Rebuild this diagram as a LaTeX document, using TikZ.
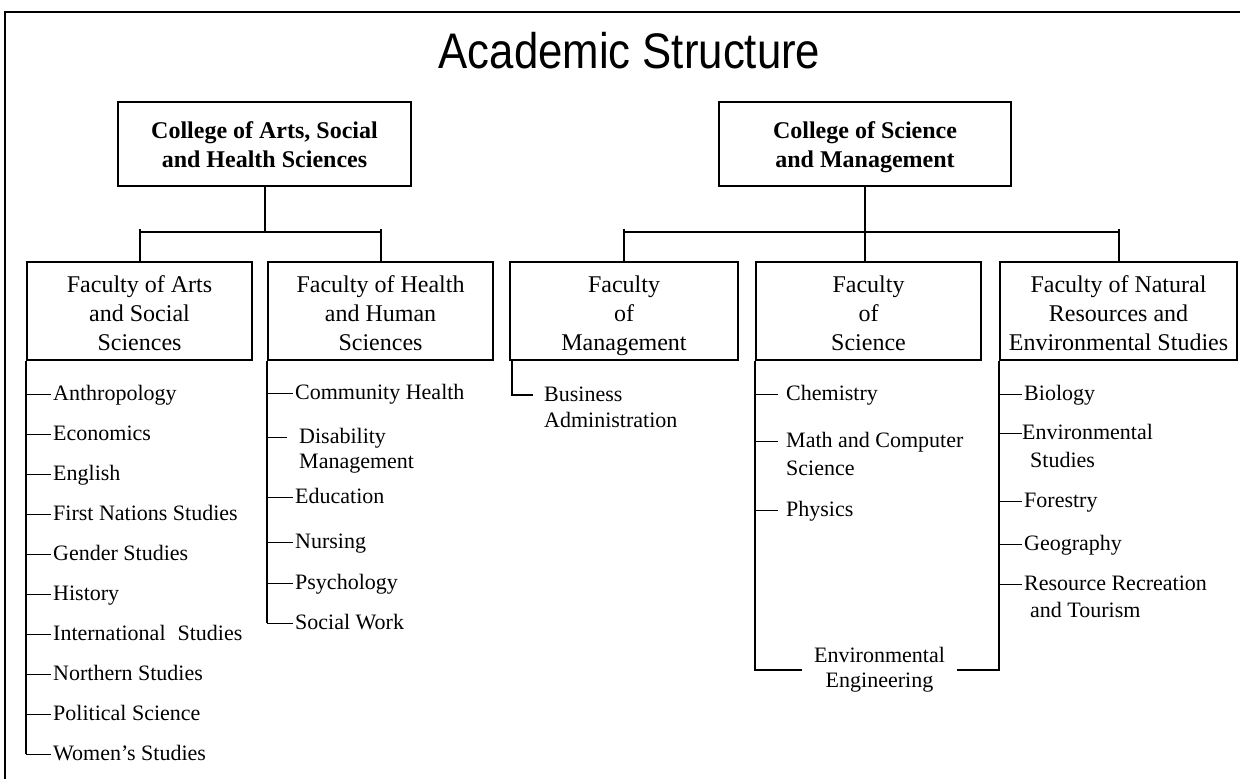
\documentclass[tikz,border=0pt]{standalone}
\usepackage{fontspec}
\setmainfont{Liberation Serif}
\newfontfamily\titlefont[FakeStretch=0.875]{Liberation Sans}
\newcommand\ctop{\rule{0pt}{23pt}}
\newcommand\cbot{\rule[-6pt]{0pt}{6pt}}
\newcommand\ftop{\rule{0pt}{26pt}}
\newcommand\fbot{\rule[-6pt]{0pt}{6pt}}
\begin{document}
\begin{tikzpicture}[x=1pt,y=-1pt,
  college/.style={draw, line width=2, minimum width=293, minimum height=84, align=center,
    font=\bfseries\fontsize{24}{29}\selectfont, inner sep=0},
  faculty/.style={draw, line width=2, minimum height=98, align=center,
    font=\fontsize{24}{29}\selectfont, inner sep=0},
  item/.style={anchor=west, inner xsep=2, inner ysep=0, text height=16, text depth=4,
    font=\fontsize{22}{28}\selectfont},
  cont/.style={anchor=base west, inner sep=0, font=\fontsize{22}{28}\selectfont},
  tick/.style={line width=1},
  trunk/.style={line width=2},
  frame/.style={line width=2.5}]
\useasboundingbox (0,0) rectangle (1240,779);
\draw[frame] (1240,12) -- (5,12) -- (5,779);

\node[font=\titlefont\fontsize{50}{54}\selectfont, anchor=base, inner sep=0] (title) at (629.5,68) {Academic Structure};

% colleges
\node[college] (colL) at (264.5,144) {\ctop College of Arts, Social\\and Health Sciences\cbot};
\node[college, minimum width=292] (colR) at (865,144) {\ctop College of Science\\and Management\cbot};

% faculties
\node[faculty, minimum width=225] (A) at (139.5,311) {\ftop Faculty of Arts\\and Social\\Sciences\fbot};
\node[faculty, minimum width=225] (B) at (380.5,311) {\ftop Faculty of Health\\and Human\\Sciences\fbot};
\node[faculty, minimum width=228] (C) at (624,311) {\ftop Faculty\\of\\Management\fbot};
\node[faculty, minimum width=225] (D) at (868.5,311) {\ftop Faculty\\of\\Science\fbot};
\node[faculty, minimum width=237] (E) at (1118.5,311) {\ftop Faculty of Natural\\Resources and\\Environmental Studies\fbot};

% college to faculty connectors
\coordinate (jL) at (264.5,232);
\coordinate (jR) at (865,232);
\draw[trunk] (colL.south) -- (jL);
\draw[trunk] (A.north |- jL) -- (B.north |- jL);
\draw[trunk] ([yshift=3pt]A.north |- jL) -- (A.north);
\draw[trunk] ([yshift=3pt]B.north |- jL) -- (B.north);
\draw[trunk] (colR.south) -- (colR.south |- D.north);
\draw[trunk] (C.north |- jR) -- (E.north |- jR);
\draw[trunk] ([yshift=3pt]C.north |- jR) -- (C.north);
\draw[trunk] ([yshift=3pt]E.north |- jR) -- (E.north);

% Faculty of Arts and Social Sciences
\foreach \t [count=\i] in {Anthropology, Economics, English, First Nations Studies,
  Gender Studies, History, {International\hspace{12pt}Studies}, Northern Studies,
  Political Science, Women’s Studies}{
  \node[item] (a\i) at (51,354+40*\i) {\t};
  \draw[tick] (a\i.west -| A.south west) -- (a\i.west);
}
\draw[trunk] (A.south west) -- (A.south west |- a10.west);

% Faculty of Health and Human Sciences
\node[item] (b1) at (293,393) {Community Health};
\node[item, inner xsep=12] (b2) at (287,437) {Disability};
\node[cont] (b2b) at (299,468) {Management};
\node[item] (b3) at (293,497) {Education};
\node[item] (b4) at (293,542) {Nursing};
\node[item] (b5) at (293,583) {Psychology};
\node[item] (b6) at (293,623) {Social Work};
\foreach \i in {1,...,6}{\draw[tick] (b\i.west -| B.south west) -- (b\i.west);}
\draw[trunk] (B.south west) -- (B.south west |- b6.west);

% Faculty of Management
\coordinate (cTop) at ([xshift=3pt]C.south west);
\node[item, inner xsep=11] (c1) at (533,395) {Business};
\node[cont] (c1b) at (544,427) {Administration};
\draw[line width=1.5] (cTop) -- (cTop |- c1.west) -- (c1.west);

% Faculty of Science
\node[item, inner xsep=8] (d1) at (778,394) {Chemistry};
\node[item, inner xsep=8] (d2) at (778,441) {Math and Computer};
\node[cont] (d2b) at (786,475) {Science};
\node[item, inner xsep=8] (d3) at (778,510) {Physics};
\foreach \i in {1,2,3}{\draw[tick] (d\i.west -| D.south west) -- (d\i.west);}

% Faculty of Natural Resources and Environmental Studies
\node[item] (e1) at (1022,394) {Biology};
\node[item, inner xsep=0] (e2) at (1022,433) {Environmental};
\node[cont] (e2b) at (1030,467) {Studies};
\node[item] (e3) at (1022,501) {Forestry};
\node[item] (e4) at (1022,544) {Geography};
\node[item] (e5) at (1022,584) {Resource Recreation};
\node[cont] (e5b) at (1030,617) {and Tourism};
\foreach \i in {1,...,5}{\draw[tick] (e\i.west -| E.south west) -- (e\i.west);}

% Environmental Engineering (shared)
\node[align=center, inner xsep=12, inner ysep=0, font=\fontsize{22}{25}\selectfont] (ee) at (879.5,670) {Environmental\\Engineering};
\draw[trunk] (D.south west) -- (D.south west |- ee.west) -- (ee.west);
\draw[trunk] (ee.east) -- (ee.east -| E.south west) -- (E.south west);
\end{tikzpicture}
\end{document}
